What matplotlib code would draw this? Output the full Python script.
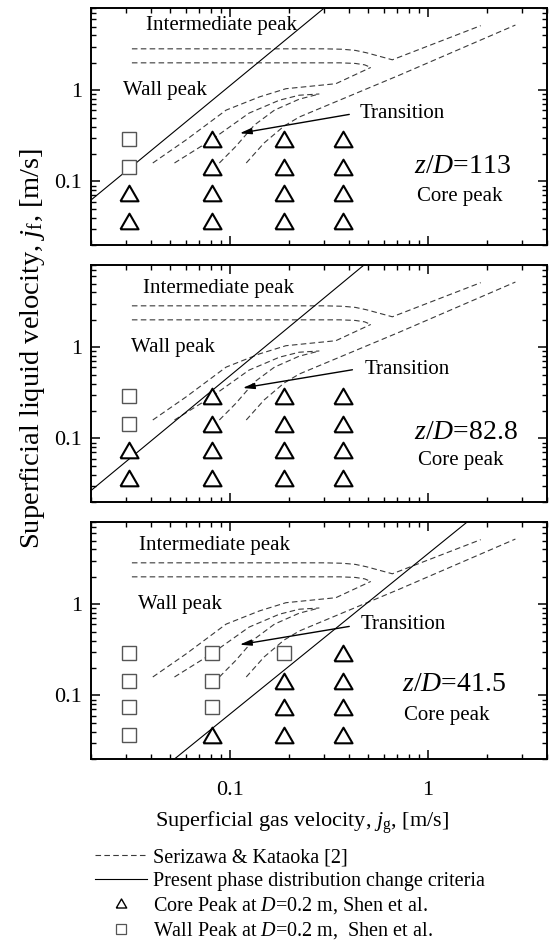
import matplotlib
matplotlib.use("Agg")
import numpy as np
import matplotlib.pyplot as plt
from matplotlib.lines import Line2D
from matplotlib.ticker import LogLocator, NullFormatter

plt.rcParams["font.family"] = ["Liberation Serif", "DejaVu Serif"]
plt.rcParams["mathtext.fontset"] = "custom"
plt.rcParams["mathtext.rm"] = "Liberation Serif"
plt.rcParams["mathtext.it"] = "Liberation Serif:italic"
plt.rcParams["mathtext.bf"] = "Liberation Serif:bold"

# Shen et al. test matrix, superficial velocities [m/s]
jg_test = [0.031, 0.081, 0.187, 0.374]
jf_test = [0.29, 0.145, 0.075, 0.037]

# observed peak type (W = wall peak, C = core peak); rows follow jf_test, columns jg_test
peak_z113 = ["WCCC", "WCCC", "CCCC", "CCCC"]
peak_z828 = ["WCCC", "WCCC", "CCCC", "CCCC"]
peak_z415 = ["WWWC", "WWCC", "WWCC", "WCCC"]

# Serizawa & Kataoka phase distribution map boundaries
sk_a_jg = [0.032, 0.30, 0.37, 0.43, 0.49, 0.662, 1.85]
sk_a_jf = [2.85, 2.85, 2.82, 2.74, 2.58, 2.16, 5.12]
sk_b_jg = [0.032, 0.36, 0.43, 0.48, 0.515]
sk_b_jf = [2.0, 2.0, 1.97, 1.90, 1.78]
sk_c_jg = [0.0408, 0.0601, 0.0957, 0.141, 0.192, 0.343, 0.515]
sk_c_jf = [0.159, 0.285, 0.605, 0.845, 1.04, 1.18, 1.78]
sk_d_jg = [0.0525, 0.0807, 0.125, 0.178, 0.224, 0.283]
sk_d_jf = [0.159, 0.285, 0.561, 0.778, 0.882, 0.91]
sk_e_jg = [0.0885, 0.107, 0.133, 0.168, 0.224, 0.283]
sk_e_jf = [0.159, 0.241, 0.415, 0.605, 0.798, 0.91]
sk_f_jg = [0.121, 0.149, 0.188, 0.224, 0.716, 2.77]
sk_f_jf = [0.159, 0.264, 0.405, 0.508, 1.46, 5.2]

# present phase distribution change criteria for each z/D
crit_z113_jg = [0.02, 0.30]
crit_z113_jf = [0.063, 8.0]
crit_z828_jg = [0.02, 0.476]
crit_z828_jf = [0.027, 8.0]
crit_z415_jg = [0.0525, 1.58]
crit_z415_jf = [0.02, 8.0]

zd_labels = ["113", "82.8", "41.5"]
x_ticks = [0.1, 1]
x_ticklabels = ["0.1", "1"]
y_ticks = [0.1, 1]
y_ticklabels = ["0.1", "1"]

W, H = 552, 943
fig = plt.figure(figsize=(W / 100, H / 100), dpi=100)

# equilateral open triangle
tri = [(-1.0, -0.866), (1.0, -0.866), (0.0, 0.866), (-1.0, -0.866)]

dash = (0, (5, 3))
dash_color = "#3a3a3a"

panels = [
    dict(peaks=peak_z113, cjg=crit_z113_jg, cjf=crit_z113_jf, zd=zd_labels[0],
         top=8, ip=(0.0375, 5.1), wp=(0.0288, 1.0), tr=(0.450, 0.557),
         arr_tail=(0.401, 0.543), arr_head=(0.112, 0.337),
         zdpos=(0.852, 0.146), cp=(0.885, 0.0687)),
    dict(peaks=peak_z828, cjg=crit_z828_jg, cjf=crit_z828_jf, zd=zd_labels[1],
         top=265, ip=(0.0363, 4.4), wp=(0.0318, 1.0), tr=(0.477, 0.566),
         arr_tail=(0.416, 0.566), arr_head=(0.116, 0.357),
         zdpos=(0.852, 0.115), cp=(0.896, 0.0566)),
    dict(peaks=peak_z415, cjg=crit_z415_jg, cjf=crit_z415_jf, zd=zd_labels[2],
         top=522, ip=(0.0347, 4.4), wp=(0.0343, 1.0), tr=(0.459, 0.595),
         arr_tail=(0.401, 0.571), arr_head=(0.112, 0.360),
         zdpos=(0.743, 0.132), cp=(0.759, 0.0595)),
]

ax_left, ax_right, ax_h = 91.5, 547, 237
axes = []
for i, p in enumerate(panels):
    ax = fig.add_axes([ax_left / W, 1 - (p["top"] + ax_h) / H,
                       (ax_right - ax_left) / W, ax_h / H])
    axes.append(ax)
    ax.set_xscale("log")
    ax.set_yscale("log")

    # Serizawa & Kataoka boundaries
    for xs, ys in [(sk_a_jg, sk_a_jf), (sk_b_jg, sk_b_jf), (sk_c_jg, sk_c_jf),
                   (sk_d_jg, sk_d_jf), (sk_e_jg, sk_e_jf), (sk_f_jg, sk_f_jf)]:
        ax.plot(xs, ys, ls=dash, lw=0.8, color=dash_color)

    # present criteria
    ax.plot(p["cjg"], p["cjf"], color="k", lw=0.8)

    # measurements
    for r, jf in enumerate(jf_test):
        for c, jg in enumerate(jg_test):
            if p["peaks"][r][c] == "W":
                ax.plot(jg, jf, ls="none", marker="s", ms=10, mfc="white",
                        mec="#555555", mew=1.0, zorder=4)
            else:
                ax.plot(jg, jf, ls="none", marker=tri, ms=13, mfc="white",
                        mec="k", mew=1.5, zorder=4)

    ax.text(*p["ip"], "Intermediate peak", fontsize=15, ha="left", va="center")
    ax.text(*p["wp"], "Wall peak", fontsize=15, ha="left", va="center")
    ax.text(*p["tr"], "Transition", fontsize=15, ha="left", va="center")
    ax.annotate("", xy=p["arr_head"], xytext=p["arr_tail"],
                arrowprops=dict(arrowstyle="-|>,head_length=0.7,head_width=0.18",
                                color="k", lw=1.0, shrinkA=0, shrinkB=0))
    ax.text(*p["zdpos"], r"$z/D$=" + p["zd"], fontsize=20, ha="left", va="center")
    ax.text(*p["cp"], "Core peak", fontsize=15, ha="left", va="center")

    ax.set_xlim(0.02, 4)
    ax.set_ylim(0.02, 8)
    ax.set_xticks(x_ticks)
    ax.set_yticks(y_ticks)
    ax.set_yticklabels(y_ticklabels)
    if i == len(panels) - 1:
        ax.set_xticklabels(x_ticklabels)
    else:
        ax.set_xticklabels([])
    for axis in (ax.xaxis, ax.yaxis):
        axis.set_minor_locator(LogLocator(base=10, subs=np.arange(2, 10), numticks=20))
        axis.set_minor_formatter(NullFormatter())
    ax.tick_params(which="both", direction="in", top=True, right=True)
    ax.tick_params(which="major", length=6.5, width=1.1, labelsize=16)
    ax.tick_params(which="minor", length=3.6, width=1.0)
    ax.tick_params(axis="x", pad=15.5)
    ax.tick_params(axis="y", pad=6.5)
    for s in ax.spines.values():
        s.set_linewidth(1.4)

fig.text(302.5 / W, 1 - 823 / H, r"Superficial gas velocity, $j_{\mathrm{g}}$, [m/s]",
         fontsize=16, ha="center", va="center")
fig.text(33 / W, 1 - 348 / H, r"Superficial liquid velocity, $j_{\mathrm{f}}$, [m/s]",
         fontsize=20.5, ha="center", va="center", rotation=90)

handles = [
    Line2D([], [], ls=dash, lw=0.8, color=dash_color),
    Line2D([], [], ls="-", lw=0.8, color="k"),
    Line2D([], [], ls="none", marker=tri, ms=7.5, mfc="white", mec="k", mew=1.0),
    Line2D([], [], ls="none", marker="s", ms=6.5, mfc="white", mec="#555555", mew=0.9),
]
labels = [
    "Serizawa & Kataoka [2]",
    "Present phase distribution change criteria",
    r"Core Peak at $D$=0.2 m, Shen et al.",
    r"Wall Peak at $D$=0.2 m,  Shen et al.",
]
fig.legend(handles, labels, loc="upper left", bbox_to_anchor=(95 / W, 1 - 848 / H),
           frameon=False, borderpad=0, borderaxespad=0, fontsize=14.5,
           handlelength=2.6, handletextpad=0.3, labelspacing=0.22)

fig.savefig("out.png", dpi=100)
